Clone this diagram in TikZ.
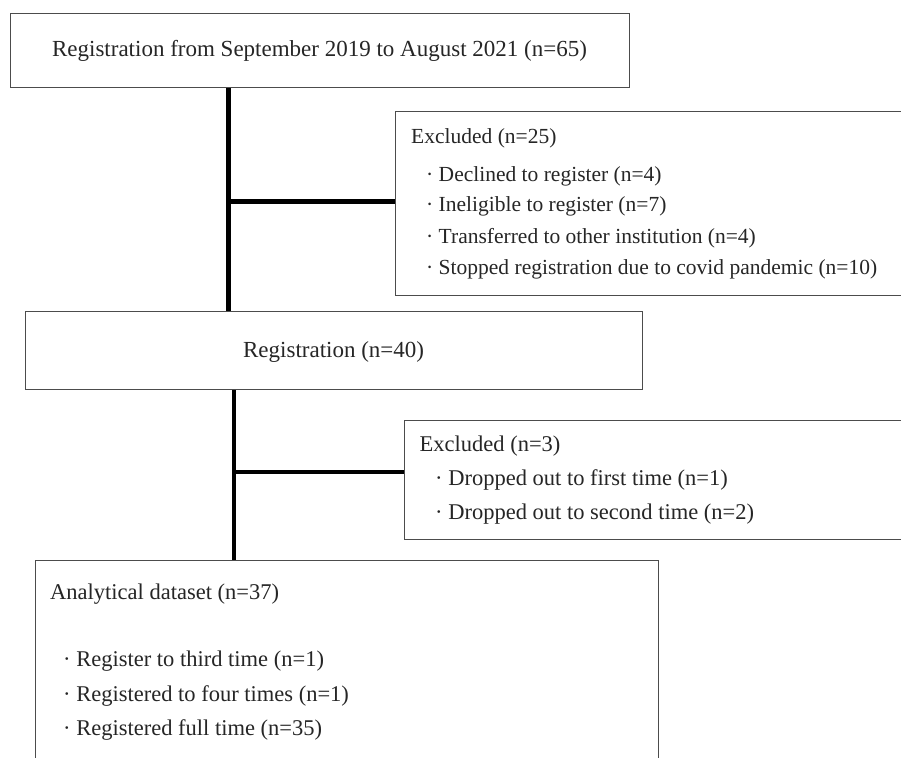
\documentclass[tikz,border=0pt]{standalone}
\usepackage{fontspec}
\setmainfont{Liberation Serif}
\begin{document}
\begin{tikzpicture}[x=1pt,y=-1pt,
  box/.style={draw=black!70, line width=1.4pt, fill=white, rectangle, inner sep=0pt, anchor=north west},
  txt/.style={inner sep=0pt, anchor=west, text height=0.68em, text depth=0.0em, text=black!85, yshift=-3.5pt},
  ctxt/.style={inner sep=0pt, anchor=center, text height=0.68em, text depth=0.0em, text=black!85, yshift=-3.5pt},
  conn/.style={line width=5pt, black}]
\useasboundingbox (0,0) rectangle (901,757);
\clip (0,0) rectangle (901,757);
\fill[white] (0,0) rectangle (901,757);
% boxes
\node[box, minimum width=619pt, minimum height=74pt] (top) at (10,13) {};
\node[box, minimum width=515pt, minimum height=184pt] (ex1) at (395,111) {};
\node[box, minimum width=617pt, minimum height=78pt] (reg) at (25,311) {};
\node[box, minimum width=506pt, minimum height=119pt] (ex2) at (404,420) {};
\node[box, minimum width=623pt, minimum height=210pt] (ana) at (35,560) {};
% texts
\node[ctxt, font=\fontsize{23}{26}\selectfont] (toptxt) at (319.5,50) {Registration from September 2019 to August 2021 (n=65)};
\begin{scope}[every node/.style={txt, font=\fontsize{21.5}{24}\selectfont}]
\node (e1h) at (411,136.7) {Excluded (n=25)};
\node (e1a) at (426,175) {· Declined to register (n=4)};
\node (e1b) at (426,205) {· Ineligible to register (n=7)};
\node (e1c) at (426,236.7) {· Transferred to other institution (n=4)};
\node (e1d) at (426,268) {· Stopped registration due to covid pandemic (n=10)};
\end{scope}
\node[ctxt, font=\fontsize{23}{26}\selectfont] (regtxt) at (333.6,351) {Registration (n=40)};
\begin{scope}[every node/.style={txt, font=\fontsize{22.5}{25}\selectfont}]
\node (e2h) at (419.5,445) {Excluded (n=3)};
\node (e2a) at (435,479) {· Dropped out to first time (n=1)};
\node (e2b) at (435,513) {· Dropped out to second time (n=2)};
\end{scope}
\begin{scope}[every node/.style={txt, font=\fontsize{22.5}{25}\selectfont}]
\node (anh) at (50,593) {Analytical dataset (n=37)};
\node (ana1) at (63,660) {· Register to third time (n=1)};
\node (ana2) at (63,695) {· Registered to four times (n=1)};
\node (ana3) at (63,729) {· Registered full time (n=35)};
\end{scope}
% connectors
\coordinate (j1) at (228,201.7);
\coordinate (j2) at (234,472);
\draw[conn] (top.south -| j1) -- (reg.north -| j1);
\draw[conn] (j1) -- (ex1.west |- j1);
\draw[conn, line width=4.5pt] (reg.south -| j2) -- (ana.north -| j2);
\draw[conn, line width=4.5pt] (j2) -- (ex2.west |- j2);
\end{tikzpicture}
\end{document}
